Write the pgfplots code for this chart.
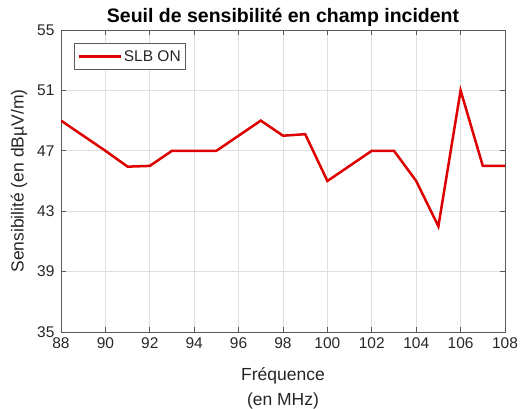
\documentclass[border=0pt]{standalone}
\usepackage{fontspec}
\setmainfont{Liberation Sans}
\usepackage{pgfplots}
\pgfplotsset{compat=1.18}
\definecolor{matred}{RGB}{222,0,0}
\definecolor{axgray}{RGB}{90,90,90}
\definecolor{txtgray}{RGB}{38,38,38}
\begin{document}
\begin{tikzpicture}
\begin{axis}[
  scale only axis,
  width=444pt, height=302pt,
  xmin=88, xmax=108, ymin=35, ymax=55,
  xtick={88,90,...,108}, ytick={35,39,...,55},
  tick align=inside,
  major tick length=5pt,
  xtick pos=both, ytick pos=both,
  grid=major,
  grid style={gray!25, line width=0.7pt},
  axis line style={axgray, line width=0.7pt},
  tick style={axgray, line width=0.7pt},
  /pgf/number format/assume math mode=true,
  ticklabel style={font=\fontsize{15.5}{18}\selectfont, text=txtgray},
  xticklabel style={yshift=-2pt},
  yticklabel style={xshift=-3pt},
  title={\textbf{Seuil de sensibilité en champ incident}},
  title style={font=\fontsize{19.5}{22}\selectfont, at={(axis description cs:0.5,1.023)}, anchor=center},
  xlabel={Fréquence\\[5pt](en MHz)},
  xlabel style={font=\fontsize{17.5}{20}\selectfont, align=center, text=txtgray, at={(axis description cs:0.5,-0.186)}, anchor=center},
  ylabel={Sensibilité (en dBµV/m)},
  ylabel style={font=\fontsize{17.5}{20}\selectfont, text=txtgray, at={(axis description cs:-0.0946,0.5)}, anchor=center},
  legend style={at={(0.0293,0.957)}, anchor=north west, font=\fontsize{15.5}{18}\selectfont, draw=axgray, line width=0.7pt, inner xsep=3pt, inner ysep=5pt, text=txtgray},
  legend cell align=left,
  legend image code/.code={\draw[#1, line width=2.5pt] (0pt,0pt) -- (42pt,0pt);},
]
\addplot[matred, line width=2.5pt] coordinates {
(88,49) (89,48) (90,47) (91,45.95) (92,46) (93,47) (94,47) (95,47) (96,48) (97,49)
(98,48) (99,48.1) (100,45) (101,46) (102,47) (103,47) (104,45) (105,42) (106,51) (107,46) (108,46)
};
\addlegendentry{SLB ON}
\end{axis}
\pgfresetboundingbox
\path[use as bounding box] (current axis.south west) ++(-61pt,-76pt) rectangle ++(520pt,408pt);
\end{tikzpicture}
\end{document}
